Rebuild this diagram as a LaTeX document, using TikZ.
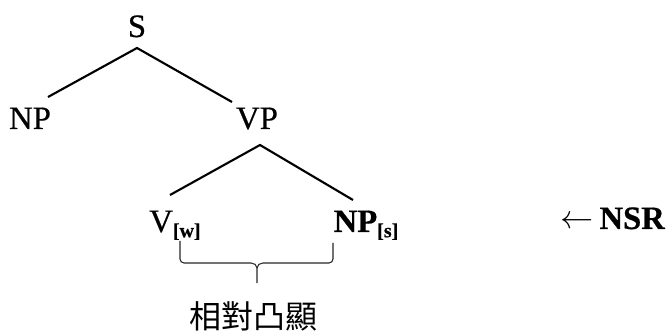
\documentclass[tikz,border=0pt]{standalone}
\usepackage{fontspec}
\setmainfont{Liberation Serif}[FakeBold=0.6]
\newfontfamily\cjk{Noto Sans CJK TC}
\begin{document}
\begin{tikzpicture}[x=0.75pt,y=-0.75pt,
  lab/.style={inner sep=0pt,anchor=base,font=\fontsize{24.5}{27}\selectfont},
  branch/.style={line width=1.6pt},
  bracepath/.style={line width=0.8pt,black!85}]
\useasboundingbox (0,0) rectangle (666,334);
\newcommand{\subtag}[1]{\raisebox{-0.35ex}{\fontsize{15}{15}\selectfont\bfseries #1}}
\node[lab] (S) at (137,37) {S};
\node[lab] (NP) at (30,129) {NP};
\node[lab] (VP) at (257,129) {VP};
\node[lab] (V) at (175,232) {V\subtag{[w]}};
\node[lab] (NPs) at (366,232) {\textbf{NP}\subtag{[s]}};
\node[lab] (NSR) at (613,229) {$\leftarrow$\,\textbf{NSR}};
\node[inner sep=0pt,font=\cjk\fontsize{24}{24}\selectfont] (rel) at (253,316) {相對凸顯};
\coordinate (Sa) at (137,48);
\coordinate (NPt) at (48,97);
\coordinate (VPt) at (232,102);
\coordinate (VPa) at (260,145);
\coordinate (Vt) at (170,195);
\coordinate (NPst) at (353,200);
\draw[branch] (NPt) -- (Sa) -- (VPt);
\draw[branch] (Vt) -- (VPa) -- (NPst);
\coordinate (bl) at (180,241);
\coordinate (br) at (333,243);
\coordinate (bt) at (257,283);
\draw[bracepath] (bl) -- (180,259) to[out=-90,in=180] (184,263) -- (251,263)
  to[out=0,in=90] (257,268) -- (bt);
\draw[bracepath] (257,268) to[out=90,in=180] (263,263) -- (329,263)
  to[out=0,in=-90] (333,259) -- (br);
\end{tikzpicture}
\end{document}
